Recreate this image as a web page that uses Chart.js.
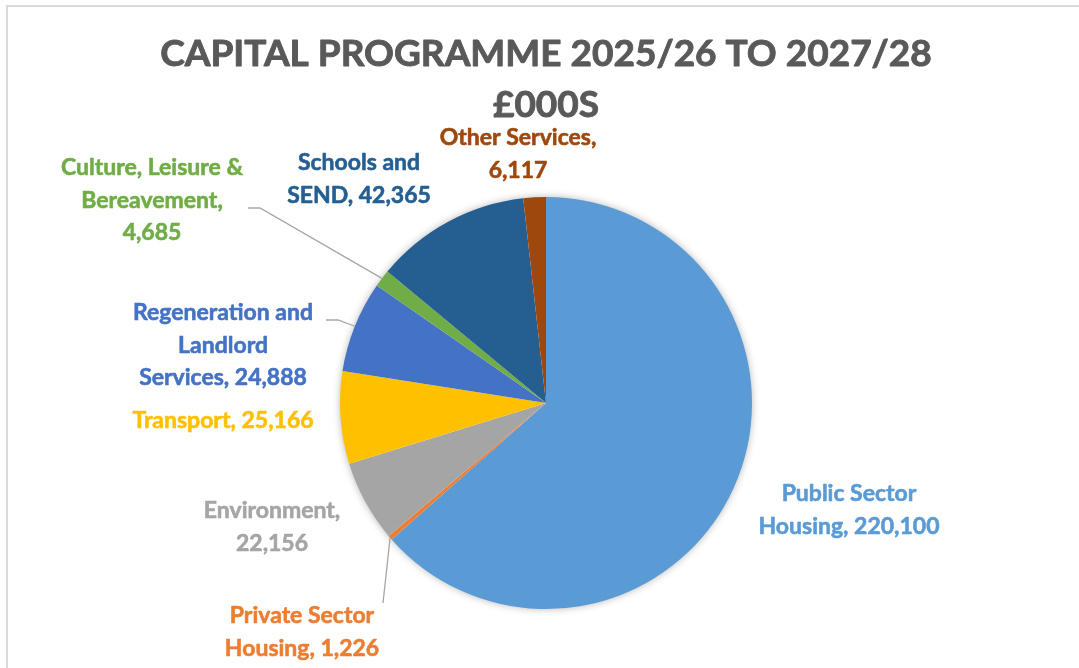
<!DOCTYPE html>
<html>
<head>
<meta charset="utf-8">
<script src="https://cdn.jsdelivr.net/npm/chart.js@4/dist/chart.umd.min.js"></script>
<style>
  html, body { margin: 0; padding: 0; background: #fff; }
  canvas { display: block; }
</style>
</head>
<body>
<canvas id="capitalPie" width="1079" height="668"></canvas>
<script>
// capital programme by service area, £000s
var services = [
    'Public Sector Housing',
    'Private Sector Housing',
    'Environment',
    'Transport',
    'Regeneration and Landlord Services',
    'Culture, Leisure & Bereavement',
    'Schools and SEND',
    'Other Services'
];
var spend = [220100, 1226, 22156, 25166, 24888, 4685, 42365, 6117];
var sliceColours = ['#5B9BD5', '#ED7D31', '#A5A5A5', '#FFC000', '#4472C4', '#70AD47', '#255E91', '#9E480E'];
var titleLines = ['CAPITAL PROGRAMME 2025/26 TO 2027/28', '£000S'];

// how each label wraps, plus where its first line sits (centre x, baseline y)
var labelLines = [
    ['Public Sector', 'Housing, {v}'],
    ['Private Sector', 'Housing, {v}'],
    ['Environment,', '{v}'],
    ['Transport, {v}'],
    ['Regeneration and', 'Landlord', 'Services, {v}'],
    ['Culture, Leisure &', 'Bereavement,', '{v}'],
    ['Schools and', 'SEND, {v}'],
    ['Other Services,', '{v}']
];
var labelSpots = [[849, 501], [302, 623], [272, 518], [223, 428], [223, 320], [152, 175], [359, 170], [518, 145]];
// leader lines: points running from the label towards the slice (slice end added at draw time)
var leaders = { 1: [[383, 603]], 4: [[326, 320], [338, 320]], 5: [[248, 208], [260, 208]] };

var FONT = 'Lato, "Open Sans", sans-serif';

function fmt(n) {
    return n.toLocaleString('en-GB');
}

// bold text with a hairline stroke so it reads as heavy as the rest
function heavyText(ctx, txt, x, y, weight) {
    ctx.lineWidth = weight;
    ctx.strokeStyle = ctx.fillStyle;
    ctx.lineJoin = 'round';
    ctx.strokeText(txt, x, y);
    ctx.fillText(txt, x, y);
}

var frameAndText = {
    id: 'frameAndText',
    beforeDraw: function (chart) {
        var ctx = chart.ctx;
        ctx.save();
        ctx.strokeStyle = '#D9D9D9';
        ctx.lineWidth = 2;
        ctx.beginPath();
        ctx.moveTo(7, 668);
        ctx.lineTo(7, 6);
        ctx.lineTo(1079, 6);
        ctx.stroke();

        ctx.fillStyle = '#595959';
        ctx.textAlign = 'center';
        ctx.textBaseline = 'alphabetic';
        ctx.font = 'bold 37px ' + FONT;
        heavyText(ctx, titleLines[0], 546, 66, 0.9);
        heavyText(ctx, titleLines[1], 546, 117, 0.9);
        ctx.restore();
    },
    beforeDatasetsDraw: function (chart) {
        // soft shadow under the whole pie
        var arc = chart.getDatasetMeta(0).data[0];
        var ctx = chart.ctx;
        ctx.save();
        ctx.shadowColor = 'rgba(0,0,0,0.35)';
        ctx.shadowBlur = 9;
        ctx.fillStyle = '#ffffff';
        ctx.beginPath();
        ctx.arc(arc.x, arc.y, arc.outerRadius - 1, 0, Math.PI * 2);
        ctx.fill();
        ctx.restore();
    },
    afterDatasetsDraw: function (chart) {
        var ctx = chart.ctx;
        var arcs = chart.getDatasetMeta(0).data;
        ctx.save();

        // leader lines to the thin slices
        ctx.strokeStyle = '#A6A6A6';
        ctx.lineWidth = 1.3;
        Object.keys(leaders).forEach(function (k) {
            var a = arcs[k];
            var mid = (a.startAngle + a.endAngle) / 2;
            var ex = a.x + Math.cos(mid) * a.outerRadius;
            var ey = a.y + Math.sin(mid) * a.outerRadius;
            var pts = leaders[k];
            ctx.beginPath();
            ctx.moveTo(pts[0][0], pts[0][1]);
            for (var i = 1; i < pts.length; i++) ctx.lineTo(pts[i][0], pts[i][1]);
            ctx.lineTo(ex, ey);
            ctx.stroke();
        });

        // data labels: category and value, coloured like the slice
        ctx.font = 'bold 23px ' + FONT;
        ctx.textAlign = 'center';
        ctx.textBaseline = 'alphabetic';
        spend.forEach(function (v, i) {
            ctx.fillStyle = sliceColours[i];
            labelLines[i].forEach(function (line, j) {
                heavyText(ctx, line.replace('{v}', fmt(v)), labelSpots[i][0], labelSpots[i][1] + j * 32.5, 0.6);
            });
        });
        ctx.restore();
    }
};

new Chart(document.getElementById('capitalPie'), {
    type: 'pie',
    data: {
        labels: services,
        datasets: [{
            data: spend,
            backgroundColor: sliceColours,
            borderWidth: 0,
            hoverOffset: 0,
            offset: 0
        }]
    },
    options: {
        responsive: false,
        animation: false,
        events: [],
        layout: {
            padding: { left: 340, right: 327, top: 197, bottom: 59 }
        },
        plugins: {
            legend: { display: false },
            title: { display: false },
            tooltip: { enabled: false }
        }
    },
    plugins: [frameAndText]
});
</script>
</body>
</html>
